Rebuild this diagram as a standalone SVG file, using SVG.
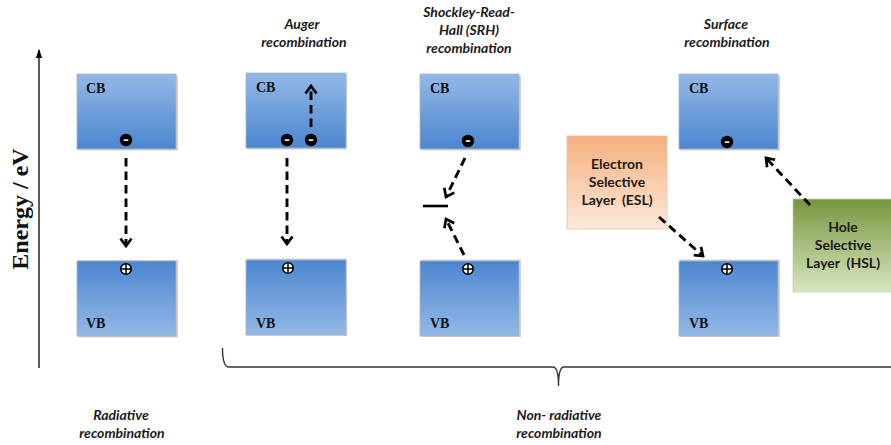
<svg xmlns="http://www.w3.org/2000/svg" width="891" height="445" viewBox="0 0 891 445">
  <defs>
    <linearGradient id="gCB" x1="0" y1="0" x2="0" y2="1">
      <stop offset="0" stop-color="#93b8e6"/>
      <stop offset="1" stop-color="#4c86d0"/>
    </linearGradient>
    <linearGradient id="gVB" x1="0" y1="0" x2="0" y2="1">
      <stop offset="0" stop-color="#4c86d0"/>
      <stop offset="1" stop-color="#93b8e6"/>
    </linearGradient>
    <linearGradient id="gESL" x1="0" y1="0" x2="0" y2="1">
      <stop offset="0" stop-color="#f6b07e"/>
      <stop offset="1" stop-color="#fde8da"/>
    </linearGradient>
    <linearGradient id="gHSL" x1="0" y1="0" x2="0" y2="1">
      <stop offset="0" stop-color="#76953d"/>
      <stop offset="1" stop-color="#d9e6c1"/>
    </linearGradient>
    <marker id="chev" viewBox="0 0 14 14" refX="11.5" refY="7" markerWidth="14" markerHeight="14" markerUnits="userSpaceOnUse" orient="auto">
      <path d="M4,1.5 L11.5,7 L4,12.5" fill="none" stroke="#000" stroke-width="2.7" stroke-linejoin="miter"/>
    </marker>
    <marker id="axisHead" viewBox="0 0 10 10" refX="9" refY="5" markerWidth="9" markerHeight="9" markerUnits="userSpaceOnUse" orient="auto">
      <path d="M0,1.5 L10,5 L0,8.5 Z" fill="#000"/>
    </marker>
    <g id="electron">
      <circle r="6.2" fill="#000"/>
      <rect x="-2.3" y="-0.7" width="4.6" height="1.6" fill="#fff"/>
    </g>
    <g id="hole">
      <circle r="5.3" fill="#fff" stroke="#000" stroke-width="1.6"/>
      <path d="M-5,0 H5 M0,-5 V5" stroke="#000" stroke-width="1.5"/>
    </g>
  </defs>
  <style>
    .band { stroke: #a8b4c4; stroke-width: 0.8; }
    .shadow { fill: #000; opacity: 0.18; }
    .bl { font-family: "Liberation Serif", "Times New Roman", serif; font-weight: bold; font-size: 14px; fill: #111; }
    .title { font-family: Lato, "Open Sans", sans-serif; font-style: italic; font-weight: bold; font-size: 14px; fill: #1a1a1a; text-anchor: middle; }
    .layer { font-family: Lato, "Open Sans", sans-serif; font-weight: bold; font-size: 14px; fill: #1a1a1a; text-anchor: middle; }
    .dash { fill: none; stroke: #000; stroke-width: 2.9; stroke-dasharray: 8.5 5; marker-end: url(#chev); }
  </style>

  <rect width="891" height="445" fill="#fff"/>

  <!-- energy axis -->
  <g id="axis">
    <line x1="39" y1="368" x2="39" y2="50" stroke="#000" stroke-width="1.3" marker-end="url(#axisHead)"/>
    <text transform="translate(28,209) rotate(-90)" text-anchor="middle" font-family="Liberation Serif, Times New Roman, serif" font-weight="bold" font-size="24" fill="#111">Energy / eV</text>
  </g>

  <!-- radiative recombination -->
  <g id="radiative-cb">
    <rect class="shadow" x="78" y="75.5" width="100" height="75"/>
    <rect class="band" x="77" y="74" width="99" height="75" fill="url(#gCB)"/>
    <text class="bl" x="86" y="93">CB</text>
    <use href="#electron" x="126" y="140"/>
  </g>
  <g id="radiative-vb">
    <rect class="shadow" x="78" y="260" width="100" height="77.5"/>
    <rect class="band" x="77" y="261" width="99" height="75" fill="url(#gVB)"/>
    <text class="bl" x="86" y="328">VB</text>
    <use href="#hole" x="126" y="269"/>
  </g>

  <!-- Auger recombination -->
  <g id="auger-cb">
    <rect class="shadow" x="247" y="74.5" width="100" height="75"/>
    <rect class="band" x="246" y="73" width="100" height="75" fill="url(#gCB)"/>
    <text class="bl" x="256" y="92">CB</text>
    <use href="#electron" x="287" y="140"/>
    <use href="#electron" x="311" y="140"/>
  </g>
  <g id="auger-vb">
    <rect class="shadow" x="247" y="258.5" width="100" height="77.5"/>
    <rect class="band" x="246" y="260" width="100" height="75" fill="url(#gVB)"/>
    <text class="bl" x="256" y="328">VB</text>
    <use href="#hole" x="288" y="268"/>
  </g>

  <!-- SRH recombination -->
  <g id="srh-cb">
    <rect class="shadow" x="421" y="75.5" width="100" height="75"/>
    <rect class="band" x="420" y="74" width="99" height="75" fill="url(#gCB)"/>
    <text class="bl" x="430" y="93">CB</text>
    <use href="#electron" x="468" y="141"/>
  </g>
  <g id="srh-trap">
    <line x1="423" y1="206" x2="448" y2="206" stroke="#000" stroke-width="2.6"/>
  </g>
  <g id="srh-vb">
    <rect class="shadow" x="421" y="259.5" width="100" height="77.5"/>
    <rect class="band" x="420" y="261" width="99" height="75" fill="url(#gVB)"/>
    <text class="bl" x="430" y="328">VB</text>
    <use href="#hole" x="468" y="269"/>
  </g>

  <!-- surface recombination -->
  <g id="surface-cb">
    <rect class="shadow" x="680" y="75.5" width="100" height="75"/>
    <rect class="band" x="679" y="74" width="99" height="75" fill="url(#gCB)"/>
    <text class="bl" x="689" y="93">CB</text>
    <use href="#electron" x="727" y="142"/>
  </g>
  <g id="surface-vb">
    <rect class="shadow" x="680" y="259.5" width="100" height="77.5"/>
    <rect class="band" x="679" y="261" width="99" height="75" fill="url(#gVB)"/>
    <text class="bl" x="689" y="328">VB</text>
    <use href="#hole" x="727" y="269"/>
  </g>
  <g id="esl">
    <rect x="567" y="136" width="100" height="93" fill="url(#gESL)" stroke="#d9c2b3" stroke-width="0.8"/>
    <text class="layer" x="617" y="169">Electron</text>
    <text class="layer" x="617" y="187">Selective</text>
    <text class="layer" x="617" y="205" xml:space="preserve">Layer  (ESL)</text>
  </g>
  <g id="hsl">
    <rect x="793" y="199" width="100" height="93" fill="url(#gHSL)" stroke="#c3cdb3" stroke-width="0.8"/>
    <text class="layer" x="843" y="232">Hole</text>
    <text class="layer" x="843" y="250">Selective</text>
    <text class="layer" x="843" y="268" xml:space="preserve">Layer  (HSL)</text>
  </g>

  <!-- transitions -->
  <g id="connectors">
    <path class="dash" d="M126,158 L126,246"/>
    <path class="dash" d="M287,158 L287,244"/>
    <path class="dash" d="M311,127 L311,86"/>
    <path class="dash" d="M465,158 L446,197"/>
    <path class="dash" d="M464,255 L446,219"/>
    <path class="dash" d="M659,217 L703,256"/>
    <path class="dash" d="M810,205 L766,158"/>
  </g>

  <!-- brace grouping the non-radiative processes -->
  <g id="brace">
    <path d="M222.5,348 Q222.5,367 229,367 L553,367 Q558.5,367 558.5,386 Q558.5,367 564,367 L895,367" fill="none" stroke="#333" stroke-width="1.4"/>
  </g>

  <!-- process titles -->
  <g id="labels">
    <text class="title" x="302" y="29">Auger</text>
    <text class="title" x="304" y="47">recombination</text>
    <text class="title" x="469" y="17">Shockley-Read-</text>
    <text class="title" x="469" y="35">Hall (SRH)</text>
    <text class="title" x="469" y="53">recombination</text>
    <text class="title" x="726" y="29">Surface</text>
    <text class="title" x="727" y="47">recombination</text>
    <text class="title" x="121" y="420">Radiative</text>
    <text class="title" x="122" y="438">recombination</text>
    <text class="title" x="559" y="420">Non- radiative</text>
    <text class="title" x="559" y="438">recombination</text>
  </g>
</svg>
